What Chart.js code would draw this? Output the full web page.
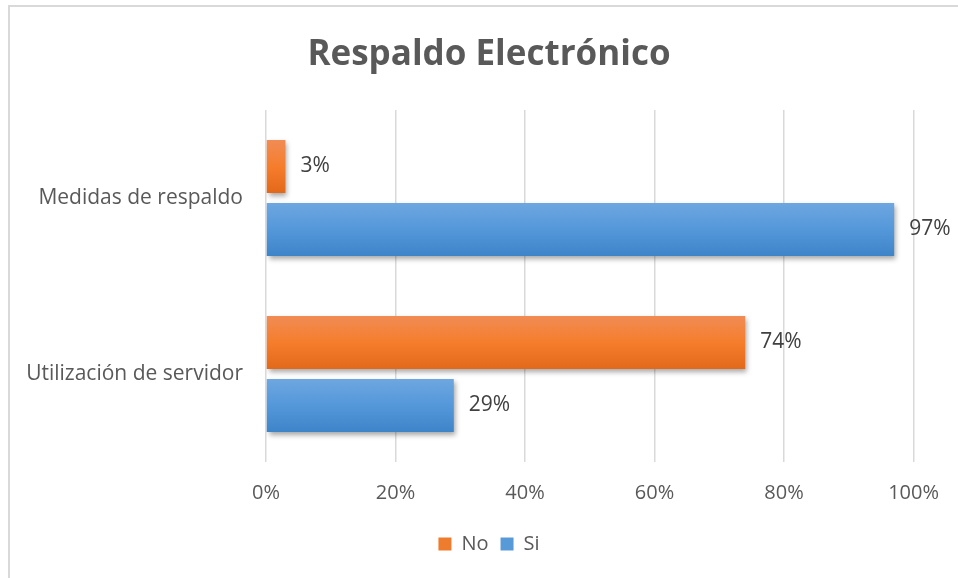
<!DOCTYPE html>
<html>
<head>
<meta charset="utf-8">
<script src="https://cdn.jsdelivr.net/npm/chart.js@4/dist/chart.umd.min.js"></script>
<style>
  html, body { margin: 0; padding: 0; background: #ffffff; }
  #wrap { position: relative; width: 958px; height: 578px; overflow: hidden; }
  #frame { position: absolute; left: 8px; top: 5px; width: 1000px; height: 700px; border: 2px solid #d9d9d9; box-sizing: border-box; }
  canvas { position: absolute; left: 0; top: 0; }
</style>
</head>
<body>
<div id="wrap">
  <div id="frame"></div>
  <canvas id="c" width="958" height="578"></canvas>
</div>
<script>
const titleText = "Respaldo Electrónico";
const categories = ["Medidas de respaldo", "Utilización de servidor"];
const seriesNames = ["No", "Si"];
const noValues = [3, 74];
const siValues = [97, 29];
const xTicks = [0, 20, 40, 60, 80, 100];

const FONT = "'Open Sans', 'Noto Sans', sans-serif";

const orangeStops = ['#f18c55', '#f57d2c', '#e2691a'];
const blueStops = ['#6ea6e0', '#5498da', '#3e84c8'];
const allStops = [orangeStops, blueStops];

const shadowPlugin = {
  id: 'barShadow',
  afterLayout(chart) {
    // let the category labels extend left of the axis box (no clipping)
    chart.scales.y.left = 0;
  },
  beforeDatasetsDraw(chart) {
    const c = chart.ctx;
    chart.data.datasets.forEach((ds, di) => {
      const meta = chart.getDatasetMeta(di);
      const stops = allStops[di];
      meta.data.forEach((el) => {
        const h = el.height;
        const top = el.y - h / 2;
        if (!isFinite(h) || !isFinite(top)) return;
        const g = c.createLinearGradient(0, top, 0, top + h);
        g.addColorStop(0, stops[0]);
        g.addColorStop(0.5, stops[1]);
        g.addColorStop(1, stops[2]);
        el.options = Object.assign({}, el.options, { backgroundColor: g });
      });
    });
    c.save();
    c.shadowColor = 'rgba(0,0,0,0.35)';
    c.shadowBlur = 5;
    c.shadowOffsetX = 2;
    c.shadowOffsetY = 3;
  },
  afterDatasetsDraw(chart) {
    const c = chart.ctx;
    c.restore();
    c.save();
    c.font = "21px " + FONT;
    c.fillStyle = '#404040';
    c.textBaseline = 'middle';
    c.textAlign = 'left';
    chart.data.datasets.forEach((ds, di) => {
      const meta = chart.getDatasetMeta(di);
      meta.data.forEach((el, i) => {
        c.fillText(ds.data[i] + '%', el.x + 15, el.y);
      });
    });
    c.restore();
  }
};

new Chart(document.getElementById('c'), {
  type: 'bar',
  data: {
    labels: categories,
    datasets: [
      { label: seriesNames[0], data: noValues, backgroundColor: orangeStops[1] },
      { label: seriesNames[1], data: siValues, backgroundColor: blueStops[1] }
    ]
  },
  options: {
    indexAxis: 'y',
    responsive: false,
    animation: false,
    devicePixelRatio: 1,
    categoryPercentage: 0.716,
    barPercentage: 0.84,
    layout: { padding: { left: 44, right: 24, top: 0, bottom: 14 } },
    scales: {
      x: {
        min: 0, max: 100,
        afterBuildTicks(axis) { axis.ticks = xTicks.map(v => ({ value: v })); },
        afterFit(axis) { axis.height = 60; },
        grid: { color: '#d9d9d9', lineWidth: 1.5, drawTicks: false },
        border: { display: false },
        ticks: { padding: 19, color: '#595959', font: { family: FONT, size: 20 }, callback: (v) => v + '%' }
      },
      y: {
        afterFit(axis) { axis.width = 222; },
        grid: { display: false },
        border: { display: false },
        ticks: { padding: 15, color: '#595959', font: { family: FONT, size: 21 } }
      }
    },
    plugins: {
      title: {
        display: true,
        text: titleText,
        color: '#595959',
        font: { family: FONT, size: 35, weight: 'bold' },
        padding: { top: 34, bottom: 34 }
      },
      legend: {
        position: 'bottom',
        labels: {
          boxWidth: 13, boxHeight: 13,
          color: '#595959',
          font: { family: FONT, size: 20 },
          padding: 12,
          generateLabels(chart) {
            return chart.data.datasets.map((ds, i) => ({
              text: ds.label,
              fillStyle: i === 0 ? '#ef7b2d' : '#5899d8',
              strokeStyle: 'rgba(0,0,0,0)',
              lineWidth: 0,
              fontColor: '#595959',
              datasetIndex: i
            }));
          }
        }
      },
      tooltip: { enabled: false }
    }
  },
  plugins: [shadowPlugin]
});
</script>
</body>
</html>
